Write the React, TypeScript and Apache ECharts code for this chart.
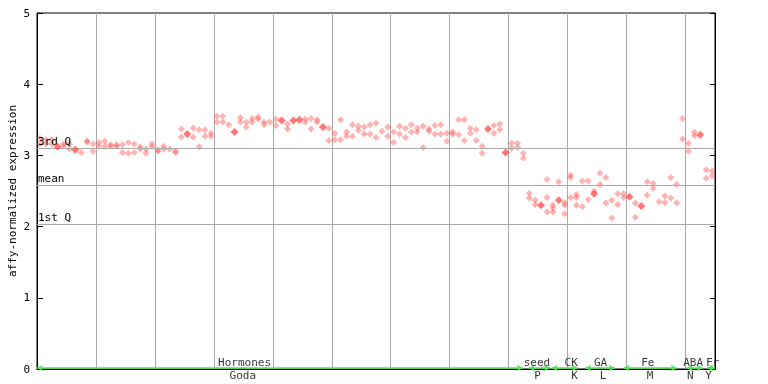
import React, { useEffect, useRef } from "react";
import * as echarts from "echarts";

// y-axis
const yTicks = [0, 1, 2, 3, 4, 5];
const yTitle = "affy-normalized expression";
const sampleCount = 115;

// replicate (hatched) points per sample column
const hollowPoints: number[][] = [
  [3.24, 3.16], [3.22, 3.16], [3.22, 3.16], [], [3.16, 3.13], [3.16, 3.09], [], [3.04], [3.2, 3.19], [3.16, 3.06],
  [3.18, 3.13], [3.2, 3.13], [3.15, 3.13], [3.15, 3.13], [3.15, 3.04], [3.18, 3.03], [3.16, 3.04], [3.12, 3.09], [3.09, 3.03], [3.16, 3.12],
  [3.08, 3.06], [3.13, 3.09], [3.09], [3.06, 3.04], [3.37, 3.26], [], [3.38, 3.26], [3.36, 3.12], [3.36, 3.27], [3.31, 3.27],
  [3.55, 3.47], [3.55, 3.47], [3.43], [], [3.53, 3.47], [3.47, 3.4], [3.52, 3.47], [3.54, 3.51], [3.47, 3.43], [3.47],
  [3.51, 3.42], [], [3.44, 3.37], [], [], [3.51, 3.47], [3.52, 3.37], [3.5, 3.47], [], [3.38, 3.21],
  [3.31, 3.22], [3.5, 3.22], [3.33, 3.27], [3.43, 3.27], [3.41, 3.35], [3.4, 3.3], [3.43, 3.3], [3.45, 3.25], [3.34], [3.4, 3.27],
  [3.33, 3.18], [3.41, 3.3], [3.38, 3.25], [3.43, 3.33], [3.38, 3.33], [3.41, 3.11], [3.37, 3.34], [3.42, 3.3], [3.43, 3.3], [3.31, 3.2],
  [3.33, 3.3], [3.5, 3.29], [3.5, 3.21], [3.38, 3.31], [3.36, 3.21], [3.13, 3.03], [], [3.42, 3.31], [3.44, 3.36], [],
  [3.17, 3.1], [3.17, 3.11], [3.03, 2.96], [2.47, 2.4], [2.37, 2.31], [], [2.66, 2.41, 2.21], [2.3, 2.26, 2.2], [2.63], [2.34, 2.3, 2.18],
  [2.72, 2.69, 2.41], [2.45, 2.41, 2.3], [2.64, 2.28], [2.64, 2.38], [2.5], [2.75, 2.59], [2.69, 2.33], [2.37, 2.12], [2.46, 2.31], [2.46, 2.41],
  [], [2.33, 2.13], [], [2.63, 2.44], [2.61, 2.54], [2.35], [2.43, 2.34], [2.69, 2.4], [2.59, 2.33], [3.52, 3.23],
  [3.17, 3.06], [3.33, 3.28], [], [2.8, 2.68], [2.78, 2.71],
];

// solid points: [sample column, value]
const filledCols = [3, 6, 25, 33, 41, 43, 44, 48, 76, 79, 85, 88, 94, 100, 102, 112];
const filledValues = [3.12, 3.08, 3.3, 3.33, 3.49, 3.49, 3.5, 3.4, 3.37, 3.04, 2.3, 2.37, 2.46, 2.42, 2.29, 3.29];

// summary lines
const summaryNames = ["3rd Q", "mean", "1st Q"];
const summaryValues = [3.1, 2.58, 2.04];

// groups (sample-column ranges)
const groupTop = ["Hormones", "seed", "CK", "GA", "Fe", "ABA", "Fr"];
const groupBottom = ["Goda", "P", "K", "L", "M", "N", "Y"];
const groupStart = [0, 83.4, 87.3, 93, 99.5, 110.2, 113.7];
const groupEnd = [82.4, 87, 91.7, 98, 108.5, 112.9, 115];
const groupTopAt = [35.2, 84.8, 90.6, 95.6, 103.6, 111.3, 114.6];
const groupBottomAt = [34.9, 84.9, 91.2, 96.0, 104.0, 110.8, 113.9];

const MONO = "'DejaVu Sans Mono', monospace";
const RED = "#ff5555";
const ARROW_Y = 0.014;

export default function App() {
  const ref = useRef<HTMLDivElement>(null);
  useEffect(() => {
    if (!ref.current) return;
    const chart = echarts.init(ref.current, undefined, { renderer: "svg" });

    const hollowData: number[][] = [];
    hollowPoints.forEach((vals, i) => vals.forEach((v) => hollowData.push([i + 0.5, v])));
    const filledData = filledCols.map((c, k) => [c + 0.5, filledValues[k]]);

    const arrowLines = groupStart.map((s, k) => [
      { coord: [s, ARROW_Y] },
      { coord: [groupEnd[k], ARROW_Y] },
    ]);

    chart.setOption({
      animation: false,
      grid: {
        left: 37,
        right: 53,
        top: 13,
        bottom: 15,
        show: true,
        borderColor: "#000",
        borderWidth: 1,
        containLabel: false,
        outerBoundsMode: "none",
      },
      graphic: [
        {
          type: "text",
          x: 12,
          y: 191,
          rotation: Math.PI / 2,
          style: {
            text: yTitle,
            fontFamily: MONO,
            fontSize: 11,
            fill: "#000",
            align: "center",
            verticalAlign: "middle",
          },
        },
      ],
      xAxis: {
        type: "value",
        min: 0,
        max: sampleCount,
        interval: 10,
        axisLine: { show: true, lineStyle: { color: "#000" } },
        axisTick: { show: false },
        axisLabel: { show: false },
        splitLine: { show: true, lineStyle: { color: "#aaaaaa", width: 1 } },
      },
      yAxis: [
        {
          type: "value",
          min: yTicks[0],
          max: yTicks[yTicks.length - 1],
          interval: 1,
          axisLine: { show: true, lineStyle: { color: "#000" } },
          axisTick: { show: true, inside: true, length: 6, lineStyle: { color: "#000" } },
          axisLabel: { fontFamily: MONO, fontSize: 11, color: "#000", margin: 7 },
          splitLine: { show: false },
        },
        {
          type: "value",
          position: "right",
          min: yTicks[0],
          max: yTicks[yTicks.length - 1],
          interval: 1,
          axisLine: { show: true, lineStyle: { color: "#000" } },
          axisTick: { show: true, inside: true, length: 5, lineStyle: { color: "#000" } },
          axisLabel: { show: false },
          splitLine: { show: false },
        },
      ],
      series: [
        {
          type: "scatter",
          data: [],
          silent: true,
          markLine: {
            silent: true,
            symbol: "none",
            lineStyle: { color: "#aaaaaa", width: 1, type: "solid" },
            label: {
              show: true,
              position: "insideStartTop",
              distance: [1, 1],
              color: "#000",
              fontFamily: MONO,
              fontSize: 11,
              formatter: (p: any) => p.name,
            },
            data: summaryValues.map((v, k) => ({ yAxis: v, name: summaryNames[k] })),
          },
        },
        {
          type: "scatter",
          data: [],
          silent: true,
          z: 3,
          markLine: {
            silent: true,
            symbol: ["arrow", "arrow"],
            symbolSize: [5, 6],
            lineStyle: { color: "#44ee44", width: 1.5, type: "solid" },
            itemStyle: { color: "#44ee44" },
            label: { show: false },
            data: arrowLines,
          },
        },
        {
          type: "scatter",
          data: hollowData,
          symbol: "diamond",
          symbolSize: 7,
          itemStyle: { color: "rgba(255,85,85,0.55)" },
          z: 4,
        },
        {
          type: "scatter",
          data: filledData,
          symbol: "diamond",
          symbolSize: 8,
          itemStyle: { color: RED },
          z: 5,
        },
        {
          type: "scatter",
          data: groupTop.map((n, k) => [groupTopAt[k], 0, n]),
          symbolSize: 0,
          silent: true,
          z: 6,
          label: {
            show: true,
            position: "top",
            distance: 1,
            color: "#000",
            fontFamily: MONO,
            fontSize: 11,
            formatter: (p: any) => p.value[2],
          },
        },
        {
          type: "scatter",
          data: groupBottom.map((n, k) => [groupBottomAt[k], 0, n]),
          symbolSize: 0,
          silent: true,
          z: 6,
          label: {
            show: true,
            position: "bottom",
            distance: 1,
            color: "#000",
            fontFamily: MONO,
            fontSize: 11,
            formatter: (p: any) => p.value[2],
          },
        },
      ],
    });
    return () => chart.dispose();
  }, []);
  return <div ref={ref} style={{ position: "fixed", left: 0, top: 0, width: 768, height: 384 }} />;
}
